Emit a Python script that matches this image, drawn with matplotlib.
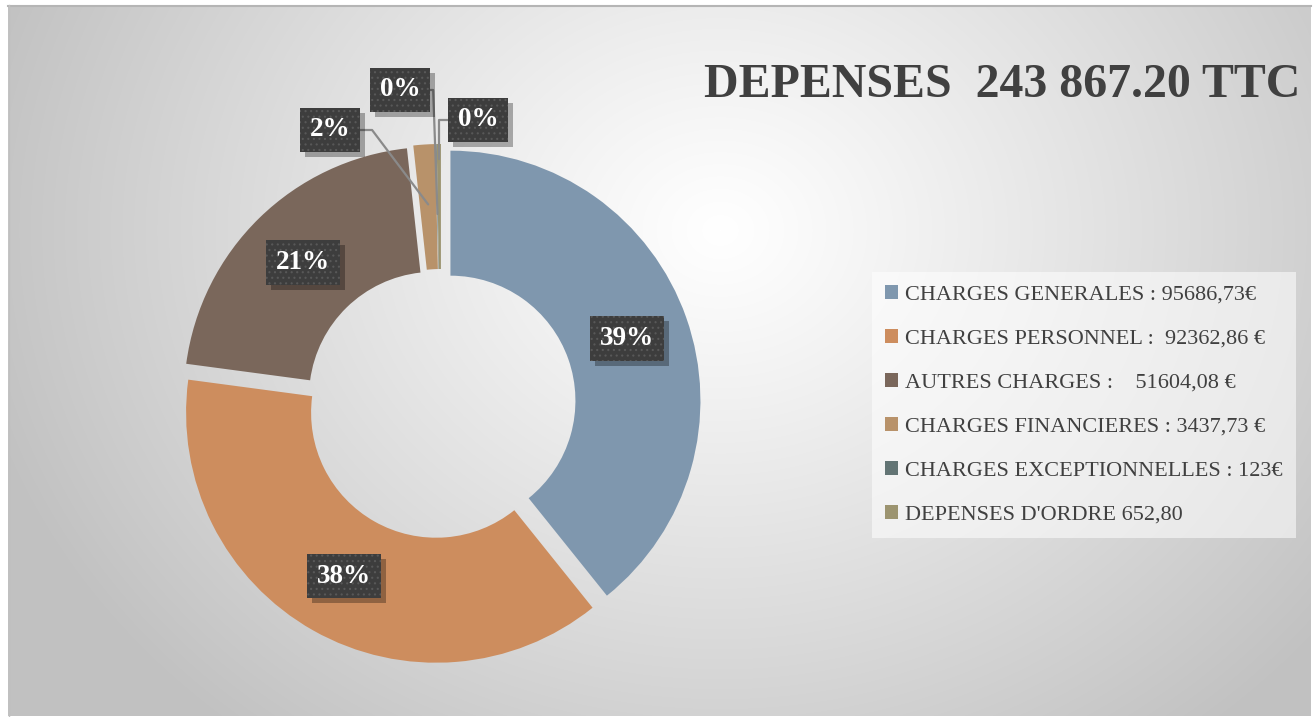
import numpy as np
import matplotlib
matplotlib.use("Agg")
import matplotlib.pyplot as plt
import matplotlib.patheffects as pe

# ---------------- data ----------------
categories = ["CHARGES GENERALES", "CHARGES PERSONNEL", "AUTRES CHARGES",
              "CHARGES FINANCIERES", "CHARGES EXCEPTIONNELLES", "DEPENSES D'ORDRE"]
values = [95686.73, 92362.86, 51604.08, 3437.73, 123.0, 652.80]
pct_labels = ["39%", "38%", "21%", "2%", "0%", "0%"]
legend_labels = ["CHARGES GENERALES : 95686,73€",
                 "CHARGES PERSONNEL :  92362,86 €",
                 "AUTRES CHARGES :    51604,08 €",
                 "CHARGES FINANCIERES : 3437,73 €",
                 "CHARGES EXCEPTIONNELLES : 123€",
                 "DEPENSES D'ORDRE 652,80"]
title = "DEPENSES  243 867.20 TTC"
colors = ["#7F97AE", "#CD8D5E", "#7A675B", "#B8926A", "#627474", "#9C9470"]

W, H = 1313, 717
fig = plt.figure(figsize=(W / 100, H / 100), dpi=100)
fig.patch.set_facecolor("white")
plt.rcParams["hatch.linewidth"] = 0.8


class NoHatchShadow(pe.AbstractPathEffect):
    def __init__(self, offset=(3.5, -3.5), alpha=0.3):
        super().__init__(offset)
        self._alpha = alpha

    def draw_path(self, renderer, gc, tpath, affine, rgbFace=None):
        gc0 = renderer.new_gc()
        gc0.copy_properties(gc)
        gc0.set_hatch(None)
        gc0.set_linewidth(0)
        gc0.set_foreground((0, 0, 0, 0))
        gc0.set_alpha(self._alpha)
        off = self._offset_transform(renderer)
        renderer.draw_path(gc0, tpath, affine + off, (0, 0, 0))
        gc0.restore()


# ---------------- background gradient ----------------
bg = fig.add_axes([0, 0, 1, 1], zorder=-10)
bg.set_xlim(0, W)
bg.set_ylim(H, 0)
bg.axis("off")
x0, x1, y0, y1 = 8, 1311, 5, 716
yy, xx = np.mgrid[y0:y1, x0:x1]
cx, cy = 720, 230
d = np.sqrt(((xx - cx) / 1.0) ** 2 + ((yy - cy) / 0.85) ** 2)
t = np.clip(d / 760.0, 0, 1) ** 1.1
lo, hi = 1.0, 0.76
g = hi * t + lo * (1 - t)
img = np.dstack([g, g, g])
bg.imshow(img, extent=(x0, x1, y1, y0), aspect="auto", interpolation="bilinear")
bg.plot([x0, x1], [y0 + 0.5, y0 + 0.5], color="#b5b5b5", lw=1.5)
bg.plot([x0 + 0.5, x0 + 0.5], [y0, y1], color="#c0c0c0", lw=1)

# ---------------- pie ----------------
R_PX = 250
cxp, cyp = 441, 404
side = 600
ax = fig.add_axes([(cxp - side / 2) / W, (H - cyp - side / 2) / H, side / W, side / H])
ax.axis("off")

expl = 0.04
wedges, _ = ax.pie(values, colors=colors, startangle=90, counterclock=False,
                   radius=1.0, explode=[expl] * len(values),
                   wedgeprops=dict(width=0.5, linewidth=0), frame=False)
ax.set_xlim(-side / 2 / R_PX, side / 2 / R_PX)
ax.set_ylim(-side / 2 / R_PX, side / 2 / R_PX)
ax.set_aspect("equal")

box = dict(boxstyle="square,pad=0.36", fc="#3d3d3d", ec="#585858", lw=0, hatch="...")
tfont = dict(family="Liberation Serif", weight="bold", size=19.5, color="white")
shadow = [NoHatchShadow(offset=(3.5, -3.5), alpha=0.3), pe.Normal()]

def mid_angle(w):
    return np.deg2rad((w.theta1 + w.theta2) / 2.0)

# big slices: labels inside the ring
for i in range(3):
    a = mid_angle(wedges[i])
    r = 0.75 + expl
    txt = ax.text(r * np.cos(a), r * np.sin(a), pct_labels[i], ha="center", va="center",
                  bbox=box, **tfont)
    txt.get_bbox_patch().set_path_effects(shadow)

# small slices: labels outside with leader lines
small = {3: ((-0.444, 1.096), 0.80, "angle,angleA=0,angleB=127,rad=0"),
         4: ((-0.164, 1.256), 0.76, "angle,angleA=0,angleB=92,rad=0"),
         5: ((0.148, 1.136), 0.98, "angle,angleA=180,angleB=90,rad=0")}
for i, (pos, r, cs) in small.items():
    a = mid_angle(wedges[i])
    target = (r * np.cos(a), r * np.sin(a))
    ann = ax.annotate(pct_labels[i], xy=target, xytext=pos, ha="center", va="center",
                      bbox=box, **tfont,
                      arrowprops=dict(arrowstyle="-", color="#8a8a8a", lw=1.6,
                                      connectionstyle=cs, shrinkA=0, shrinkB=0))
    ann.get_bbox_patch().set_path_effects(shadow)

# ---------------- title ----------------
fig.text(1300 / W, 1 - 97 / H, title, ha="right", va="baseline",
         family="Liberation Serif", weight="bold", size=34.5, color="#404040")

# ---------------- legend ----------------
leg = fig.legend(wedges, legend_labels, loc="upper left",
                 bbox_to_anchor=(872 / W, 1 - 272 / H),
                 prop=dict(family="Liberation Serif", size=16),
                 labelcolor="#404040", frameon=True, fancybox=False,
                 handlelength=0.55, handleheight=0.55, handletextpad=0.35,
                 labelspacing=1.1, borderpad=0.6, borderaxespad=0)
fr = leg.get_frame()
fr.set_facecolor("white")
fr.set_alpha(0.55)
fr.set_linewidth(0)

fig.savefig("out.png", dpi=100)
